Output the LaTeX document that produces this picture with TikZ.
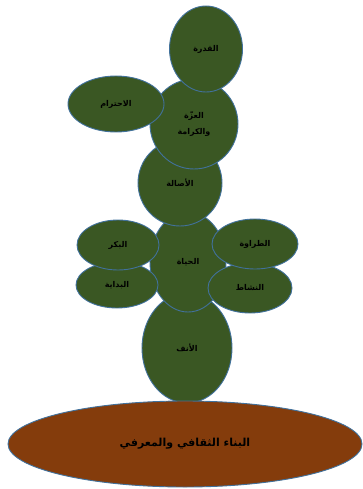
\documentclass[tikz,border=0pt]{standalone}
\usepackage{fontspec}
\newfontfamily\arabicfont[Script=Arabic]{DejaVu Sans}
\TeXXeTstate=1
\usetikzlibrary{shapes.geometric}
\definecolor{leafgreen}{HTML}{3A5723}
\definecolor{rimblue}{HTML}{41719C}
\definecolor{soilbrown}{HTML}{843C0C}
\newcommand{\ar}[1]{\beginR #1\endR}

\begin{document}
\begin{tikzpicture}[
    x=1pt, y=-1pt,
    leaf/.style={ellipse, draw=rimblue, line width=0.9pt, fill=leafgreen, inner sep=0pt, font=\arabicfont\bfseries\fontsize{8}{13}\selectfont, align=center, text=black},
    soil/.style={ellipse, draw=rimblue, line width=0.9pt, fill=soilbrown, inner sep=0pt, font=\arabicfont\bfseries\fontsize{11}{13}\selectfont, text=black}
]
    \useasboundingbox (0,0) rectangle (362,489);

    % bottom up
    \node[leaf, minimum width=90pt, minimum height=110pt] (anaf) at (187, 348) {\ar{الأنف}};
    \node[soil, minimum width=354pt, minimum height=86pt] (base) at (185, 444) {\ar{البناء الثقافي والمعرفي}};
    \node[leaf, minimum width=76pt, minimum height=100pt] (hayat) at (188, 262) {\ar{الحياة}};

    \node[leaf, minimum width=82pt, minimum height=46pt] (bidaya) at (117, 285) {\ar{البداية}};
    \node[leaf, minimum width=84pt, minimum height=50pt] (nashat) at (250, 288) {\ar{النشاط}};
    \node[leaf, minimum width=82pt, minimum height=50pt] (bikr) at (118, 245) {\ar{البكر}};
    \node[leaf, minimum width=86pt, minimum height=50pt] (tarawa) at (255, 244) {\ar{الطراوة}};

    \node[leaf, minimum width=84pt, minimum height=86pt] (asala) at (180, 183) {\ar{الأصالة}};
    \node[leaf, minimum width=88pt, minimum height=90pt] (izza) at (194, 124) {\ar{العزّة}\\[3pt]\ar{والكرامة}};
    \node[leaf, minimum width=96pt, minimum height=56pt] (ihtiram) at (116, 104) {\ar{الاحترام}};
    \node[leaf, minimum width=73pt, minimum height=86pt] (qudra) at (206, 49) {\ar{القدرة}};
\end{tikzpicture}
\end{document}
